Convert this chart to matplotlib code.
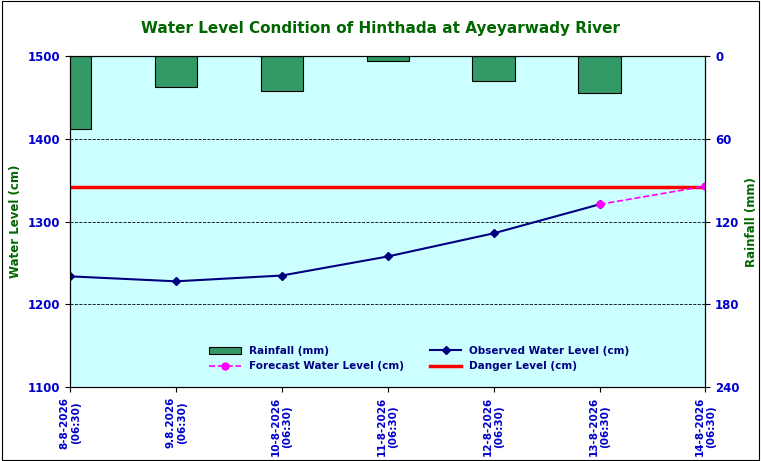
import matplotlib.pyplot as plt
import numpy as np

dates = ['8-8-2026\n(06:30)', '9.8.2026\n(06:30)', '10-8-2026\n(06:30)', '11-8-2026\n(06:30)',
         '12-8-2026\n(06:30)', '13-8-2026\n(06:30)', '14-8-2026\n(06:30)']
rainfall = [53, 22, 25, 3.5, 18, 27]
observed = [1234, 1228, 1235, 1258, 1286, 1321]
forecast_x = [5, 6]
forecast = [1321, 1343]
danger = 1342

fig = plt.figure(figsize=(7.61, 4.61), dpi=100)
ax = fig.add_axes([0.092, 0.16, 0.835, 0.718])
x = np.arange(len(dates))

ax2 = ax.twinx()
ax2.bar(x[:6], rainfall, width=0.4, color='#339966', edgecolor='black', linewidth=0.8,
        label='Rainfall (mm)')
ax2.set_ylim(240, 0)
ax2.set_yticks([0, 60, 120, 180, 240])

ax.set_zorder(ax2.get_zorder() + 1)
ax.patch.set_visible(False)
ax2.patch.set_visible(True)
ax2.patch.set_facecolor('#CCFFFF')

ax.axhline(danger, color='red', lw=2.5, label='Danger Level (cm)')
ax.plot(x[:6], observed, color='#000080', marker='D', ms=4, lw=1.5,
        label='Observed Water Level (cm)')
ax.plot(forecast_x, forecast, color='#FF00FF', ls='--', marker='o', ms=5, lw=1.2,
        label='Forecast Water Level (cm)')
ax.set_ylim(1100, 1500)
ax.set_yticks([1100, 1200, 1300, 1400, 1500])
ax.set_xlim(0, 6)
ax.set_xticks(x)
ax.set_xticklabels(dates, rotation=90, fontsize=7.5, color='#0000CC', fontweight='bold')
ax.grid(axis='y', color='black', ls='--', lw=0.6)
for a in (ax, ax2):
    a.tick_params(axis='y', labelsize=8.5, labelcolor='#0000CC')
    for t in a.get_yticklabels():
        t.set_fontweight('bold')
ax.set_ylabel('Water Level (cm)', color='#006600', fontweight='bold', fontsize=8.5)
ax2.set_ylabel('Rainfall (mm)', color='#006600', fontweight='bold', fontsize=8.5)
fig.suptitle('Water Level Condition of Hinthada at Ayeyarwady River', color='#006600',
             fontweight='bold', fontsize=11, y=0.955)

h1, l1 = ax2.get_legend_handles_labels()
h2, l2 = ax.get_legend_handles_labels()
hd = dict(zip(l1 + l2, h1 + h2))
order = ['Rainfall (mm)', 'Forecast Water Level (cm)', 'Observed Water Level (cm)', 'Danger Level (cm)']
leg = ax.legend([hd[k] for k in order], order, ncol=2, loc='lower center',
                bbox_to_anchor=(0.55, 0.02), frameon=False, fontsize=7.5,
                columnspacing=2.5, handlelength=3)
for t in leg.get_texts():
    t.set_color('#000080')
    t.set_fontweight('bold')

fig.patches.append(plt.Rectangle((0.002, 0.002), 0.996, 0.996, transform=fig.transFigure,
                                 fill=False, edgecolor='black', lw=0.8))
fig.savefig('out.png', dpi=100)
